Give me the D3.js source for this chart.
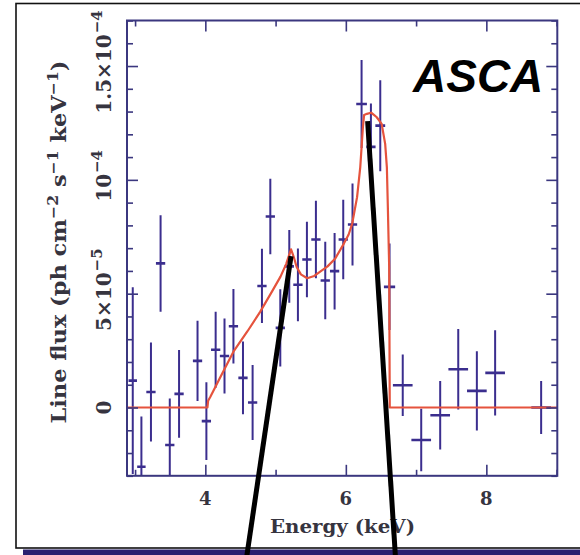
<!DOCTYPE html>
<html><head><meta charset="utf-8">
<script src="https://cdn.jsdelivr.net/npm/d3@7"></script>
<style>body{margin:0;background:#fff}svg{display:block}</style>
</head><body>
<svg id="chart" width="580" height="555"></svg>
<script>
// Binned line-flux measurements, flux and errors in units of 1e-5 ph cm^-2 s^-1 keV^-1
const binEnergy    = [2.967, 3.09, 3.226, 3.363, 3.494, 3.626, 3.889, 4.015, 4.147, 4.273, 4.40, 4.536, 4.673, 4.806, 4.925, 5.067, 5.195, 5.318, 5.446, 5.574, 5.707, 5.84, 5.963, 6.095, 6.224, 6.357, 6.49, 6.622, 6.81, 7.073, 7.343, 7.60, 7.865, 8.125, 8.78];
const binHalfWidth = [0.06, 0.06, 0.066, 0.066, 0.066, 0.066, 0.066, 0.066, 0.066, 0.066, 0.066, 0.066, 0.066, 0.066, 0.066, 0.066, 0.066, 0.066, 0.066, 0.066, 0.066, 0.066, 0.066, 0.066, 0.076, 0.066, 0.07, 0.08, 0.14, 0.14, 0.14, 0.14, 0.14, 0.14, 0.14];
const binFlux      = [1.18, -2.6, 0.68, 6.33, -1.65, 0.6, 2.05, -0.6, 2.54, 2.26, 3.57, 1.3, 0.22, 5.34, 8.39, 3.5, 6.2, 5.39, 6.5, 7.38, 5.58, 5.99, 7.38, 8.04, 13.33, 11.45, 12.38, 5.3, 0.98, -1.43, -0.34, 1.68, 0.73, 1.52, 0.0];
const binError     = [4.1, 2.2, 2.17, 2.12, 2.05, 1.93, 1.76, 1.71, 1.67, 1.65, 1.64, 1.6, 1.65, 1.63, 1.66, 1.7, 1.6, 1.6, 1.66, 1.7, 1.7, 1.68, 1.75, 1.8, 1.93, 1.9, 2.0, 1.9, 1.35, 1.37, 1.5, 1.77, 1.74, 1.87, 1.16];

// Best-fit line profile (same units)
const modelEnergy = [2.885, 4.03, 4.04, 4.07, 4.2, 4.4, 4.6, 4.78, 4.95, 5.07, 5.15, 5.22, 5.26, 5.30, 5.36, 5.45, 5.55, 5.64, 5.74, 5.85, 5.97, 6.04, 6.09, 6.16, 6.205, 6.243, 6.26, 6.30, 6.36, 6.40, 6.44, 6.51, 6.56, 6.584, 6.598, 6.617, 6.625, 9.01];
const modelFlux   = [0, 0, 0.3, 0.46, 1.25, 2.45, 3.35, 4.2, 5.1, 5.75, 6.3, 6.95, 6.6, 6.17, 5.85, 5.68, 5.78, 5.98, 6.2, 6.55, 7.19, 7.6, 8.07, 9.24, 10.55, 12.31, 12.85, 12.9, 12.95, 12.85, 12.75, 12.46, 11.58, 10.55, 8.8, 6.17, 0, 0];

// Axis ticks and labels
const xTicksMajor = [4, 6, 8];
const xTicksMinor = [3, 5, 7, 9];
const yTicksMajor = [0, 5, 10, 15];
const yTicksMinor = d3.range(-3, 18);
const yTickBase = ["0", "5×10", "10", "1.5×10"];
const yTickExp  = ["", "−5", "−4", "−4"];

// Call-out lines pointing at the two line features (energy, flux at the top; energy at the page bottom)
const calloutTopEnergy = [5.22, 6.31];
const calloutTopFlux   = [6.65, 12.58];
const calloutBottomEnergy = [4.586, 6.707];

const axisColor = "#3b377f";
const dataColor = "#3b2e8e";
const modelColor = "#e5533d";
const textColor = "#36343f";
const serif = "'DejaVu Serif', 'Liberation Serif', serif";

const svg = d3.select("#chart");
svg.append("rect").attr("width", 580).attr("height", 555).attr("fill", "#fff");

// Outer frame and bottom band
svg.append("rect").attr("x", 16).attr("y", 3.5).attr("width", 600).attr("height", 544.5)
  .attr("fill", "none").attr("stroke", "#111").attr("stroke-width", 1.6);
svg.append("rect").attr("x", 23).attr("y", 549.5).attr("width", 560).attr("height", 6)
  .attr("fill", "#2a2070");

const L = 127, R = 557.3, T = 20.5, B = 475.8;
const x = d3.scaleLinear().domain([2.885, 9.01]).range([L, R]);
const y = d3.scaleLinear().domain([-3, 17]).range([B, T]);

svg.append("defs").append("clipPath").attr("id", "plotClip")
  .append("rect").attr("x", L).attr("y", T).attr("width", R - L).attr("height", B - T);

const plot = svg.append("g").attr("clip-path", "url(#plotClip)");

// Error bars
const bars = plot.append("g").attr("stroke", dataColor).attr("stroke-width", 2);
binEnergy.forEach((e, i) => {
  bars.append("line")
    .attr("x1", x(e)).attr("x2", x(e))
    .attr("y1", y(binFlux[i] - binError[i])).attr("y2", y(binFlux[i] + binError[i]));
  bars.append("line")
    .attr("x1", x(e - binHalfWidth[i])).attr("x2", x(e + binHalfWidth[i]))
    .attr("y1", y(binFlux[i])).attr("y2", y(binFlux[i]))
    .attr("stroke-width", 2.6);
});

// Model curve
const model = modelEnergy.map((e, i) => [e, modelFlux[i]]);
plot.append("path").datum(model)
  .attr("fill", "none").attr("stroke", modelColor).attr("stroke-width", 2.2)
  .attr("stroke-linejoin", "round")
  .attr("d", d3.line().x(d => x(d[0])).y(d => y(d[1])));

// Axes: ticks point inward on all four sides
const majorLen = 11, minorLen = 6;
const axes = svg.append("g");
function drawAxis(axisGen, tr, values, len) {
  const g = axes.append("g").attr("transform", tr)
    .call(axisGen.tickValues(values).tickSize(len).tickFormat("").tickSizeOuter(0));
  g.select(".domain").remove();
  g.selectAll("line").attr("stroke", axisColor).attr("stroke-width", 1.6);
}
const yMinorOnly = yTicksMinor.filter(v => !yTicksMajor.includes(v));
drawAxis(d3.axisTop(x), `translate(0,${B})`, xTicksMajor, majorLen);
drawAxis(d3.axisTop(x), `translate(0,${B})`, xTicksMinor, minorLen);
drawAxis(d3.axisBottom(x), `translate(0,${T})`, xTicksMajor, majorLen);
drawAxis(d3.axisBottom(x), `translate(0,${T})`, xTicksMinor, minorLen);
drawAxis(d3.axisRight(y), `translate(${L},0)`, yTicksMajor, majorLen);
drawAxis(d3.axisRight(y), `translate(${L},0)`, yMinorOnly, minorLen);
drawAxis(d3.axisLeft(y), `translate(${R},0)`, yTicksMajor, majorLen);
drawAxis(d3.axisLeft(y), `translate(${R},0)`, yMinorOnly, minorLen);
axes.append("rect").attr("x", L).attr("y", T).attr("width", R - L).attr("height", B - T)
  .attr("fill", "none").attr("stroke", axisColor).attr("stroke-width", 2);

// X tick labels
svg.append("g").selectAll("text").data(xTicksMajor).join("text")
  .attr("x", d => x(d)).attr("y", 505)
  .attr("text-anchor", "middle").attr("font-family", serif).attr("font-weight", "bold")
  .attr("font-size", 18).attr("fill", textColor)
  .text(d => d);

svg.append("text").attr("x", 342.5).attr("y", 533)
  .attr("text-anchor", "middle").attr("font-family", serif).attr("font-weight", "bold")
  .attr("font-size", 18.5).attr("fill", textColor)
  .attr("textLength", 145).attr("lengthAdjust", "spacingAndGlyphs")
  .text("Energy (keV)");

// Y tick labels (rotated)
yTicksMajor.forEach((v, i) => {
  const px = 111, py = y(v) + (yTickExp[i] ? -4 : 0);
  const t = svg.append("text")
    .attr("transform", `translate(${px},${py}) rotate(-90)`)
    .attr("text-anchor", "middle").attr("font-family", serif).attr("font-weight", "bold")
    .attr("font-size", 20).attr("fill", textColor);
  t.append("tspan").text(yTickBase[i]);
  if (yTickExp[i]) t.append("tspan").attr("dx", 1).attr("dy", -9).attr("font-size", 15).text(yTickExp[i]);
});

// Y axis title (rotated)
const title = svg.append("text")
  .attr("transform", `translate(66,242) rotate(-90)`)
  .attr("text-anchor", "middle").attr("font-family", serif).attr("font-weight", "bold")
  .attr("font-size", 20).attr("fill", textColor)
  .attr("textLength", 363).attr("lengthAdjust", "spacingAndGlyphs");
const titleParts = [["Line flux (ph cm", 0, 20], ["−2", -8, 14], [" s", 8, 20], ["−1", -8, 14], [" keV", 8, 20], ["−1", -8, 14], [")", 8, 20]];
titleParts.forEach(([s, dy, fs]) => title.append("tspan").attr("dy", dy).attr("font-size", fs).text(s));

// Instrument label
svg.append("text").attr("x", 413).attr("y", 91.5)
  .attr("font-family", "'Liberation Sans', Arial, sans-serif").attr("font-weight", "bold")
  .attr("font-style", "italic").attr("font-size", 46).attr("fill", "#000")
  .text("ASCA");

// Call-out lines
calloutTopEnergy.forEach((e, i) => {
  svg.append("line")
    .attr("x1", x(e)).attr("y1", y(calloutTopFlux[i]))
    .attr("x2", x(calloutBottomEnergy[i])).attr("y2", 558)
    .attr("stroke", "#000").attr("stroke-width", 5);
});
</script>
</body></html>
